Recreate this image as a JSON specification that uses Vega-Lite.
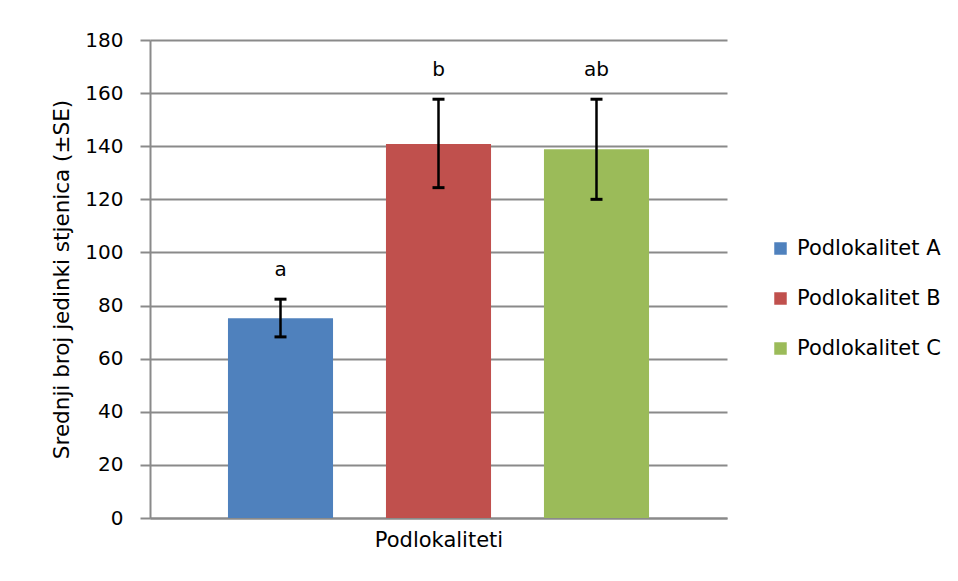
{
  "$schema": "https://vega.github.io/schema/vega-lite/v6.json",
  "width": 577,
  "height": 478,
  "autosize": {"type": "none"},
  "padding": {"left": 150, "top": 40, "right": 231, "bottom": 63},
  "background": "white",
  "config": {
    "font": "DejaVu Sans",
    "view": {"stroke": null},
    "axis": {"labelColor": "#000000", "titleColor": "#000000", "titleFontWeight": "normal"}
  },
  "data": {
    "values": [
      {"podlokalitet": "Podlokalitet A", "mean": 75.2, "lo": 68.2, "hi": 82.4, "sig": "a"},
      {"podlokalitet": "Podlokalitet B", "mean": 140.8, "lo": 124.4, "hi": 157.7, "sig": "b"},
      {"podlokalitet": "Podlokalitet C", "mean": 138.9, "lo": 120.0, "hi": 157.7, "sig": "ab"}
    ]
  },
  "encoding": {
    "x": {
      "field": "podlokalitet",
      "type": "nominal",
      "scale": {"paddingInner": 0.335, "paddingOuter": 0.4935},
      "axis": {
        "title": "Podlokaliteti",
        "labels": false,
        "ticks": false,
        "domainColor": "#8a8a8a",
        "domainWidth": 2,
        "titleFontSize": 21,
        "titlePadding": 11
      }
    }
  },
  "layer": [
    {
      "mark": {"type": "bar"},
      "encoding": {
        "y": {
          "field": "mean",
          "type": "quantitative",
          "title": "Srednji broj jedinki stjenica (±SE)",
          "scale": {"domain": [0, 180], "nice": false},
          "axis": {
            "values": [0, 20, 40, 60, 80, 100, 120, 140, 160, 180],
            "grid": true,
            "gridColor": "#8a8a8a",
            "gridWidth": 2,
            "domainColor": "#8a8a8a",
            "domainWidth": 2,
            "tickColor": "#8a8a8a",
            "tickWidth": 2,
            "tickSize": 10,
            "labelFontSize": 20,
            "labelPadding": 17,
            "titleFontSize": 21.5,
            "titlePadding": 11
          }
        },
        "color": {
          "field": "podlokalitet",
          "type": "nominal",
          "scale": {"range": ["#4F81BD", "#C0504D", "#9BBB59"]},
          "legend": {
            "title": null,
            "orient": "none",
            "legendX": 620,
            "legendY": 198,
            "padding": 0,
            "symbolType": "square",
            "symbolSize": 156,
            "symbolStrokeWidth": 0,
            "labelFontSize": 21,
            "labelColor": "#000000",
            "labelOffset": 6,
            "rowPadding": 28
          }
        }
      }
    },
    {
      "mark": {"type": "rule", "color": "#000000", "strokeWidth": 2.5},
      "encoding": {
        "y": {"field": "lo", "type": "quantitative", "title": "Srednji broj jedinki stjenica (±SE)"},
        "y2": {"field": "hi"}
      }
    },
    {
      "mark": {"type": "tick", "color": "#000000", "thickness": 3, "size": 12, "opacity": 1},
      "encoding": {
        "y": {"field": "lo", "type": "quantitative", "title": "Srednji broj jedinki stjenica (±SE)"}
      }
    },
    {
      "mark": {"type": "tick", "color": "#000000", "thickness": 3, "size": 12, "opacity": 1},
      "encoding": {
        "y": {"field": "hi", "type": "quantitative", "title": "Srednji broj jedinki stjenica (±SE)"}
      }
    },
    {
      "mark": {"type": "text", "dy": -29, "fontSize": 20, "baseline": "middle", "color": "#000000"},
      "encoding": {
        "y": {"field": "hi", "type": "quantitative", "title": "Srednji broj jedinki stjenica (±SE)"},
        "text": {"field": "sig"}
      }
    }
  ]
}
